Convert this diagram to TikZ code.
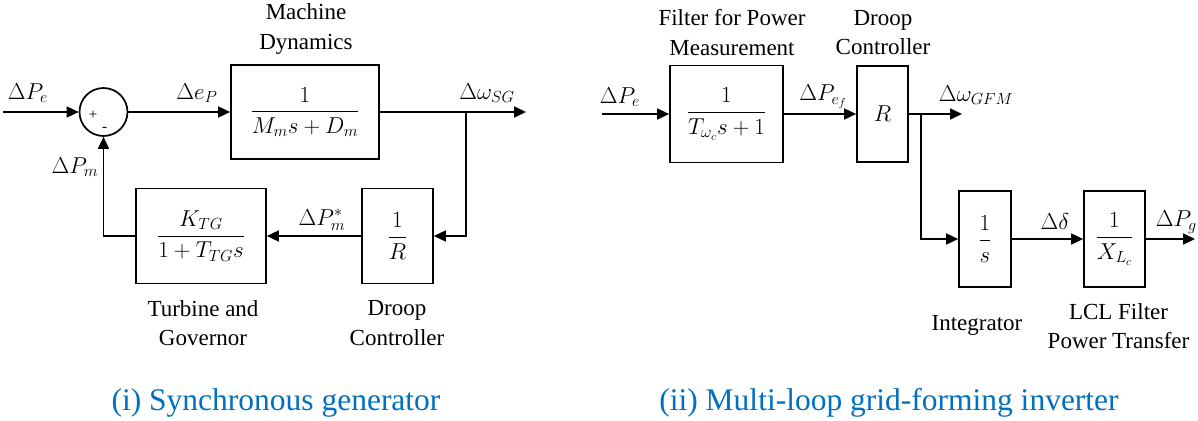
\documentclass[tikz,border=0pt]{standalone}
\usepackage{fix-cm}
\usepackage{amsmath}
\usepackage{fontspec}
\setmainfont{Liberation Serif}
\newfontfamily\tnr{Liberation Serif}
\usetikzlibrary{arrows.meta}
\definecolor{capblue}{RGB}{0,112,192}
\tikzset{
  blk/.style={draw, line width=1.7pt, inner sep=0pt, font=\fontsize{23}{27}\selectfont},
  lbl/.style={inner sep=0pt, font=\tnr\fontsize{23}{27}\selectfont},
  twoline/.style={inner sep=0pt, align=center, font=\tnr\fontsize{23}{29.5}\selectfont},
  arr/.style={line width=1.7pt, -{Triangle[length=12pt,width=11pt]}},
  ttl/.style={inner sep=0pt, text=capblue, font=\tnr\fontsize{31.5}{36}\selectfont},
  sgn/.style={inner sep=0pt, font=\tnr\fontsize{15}{17}\selectfont},
}
\begin{document}
\begin{tikzpicture}[x=1pt,y=-1pt]
\useasboundingbox (0,0) rectangle (1198,420);
% ---------- (i) synchronous generator ----------
\coordinate (inL) at (3,112);
\node[draw, circle, line width=1.7pt, minimum size=48pt, inner sep=0pt] (sum) at (103.5,112) {};
\node[sgn] (plus) at (93,115) {+};
\node[sgn] (minus) at (104.5,129) {-};
\node[blk, minimum width=148pt, minimum height=94pt] (md) at (305,112) {$\dfrac{1}{M_m s+D_m}$};
\coordinate (brL) at (466,112);
\coordinate (outL) at (526,112);
\node[blk, minimum width=71pt, minimum height=95pt] (dc) at (397.5,236) {$\dfrac{1}{R}$};
\node[blk, minimum width=130pt, minimum height=95pt] (tg) at (201,236) {$\dfrac{K_{TG}}{1+T_{TG}s}$};

\draw[arr] (inL) -- (sum.west);
\draw[arr] (sum.east) -- (md.west);
\draw[arr] (md.east) -- (outL);
\draw[arr] (brL) |- (dc.east);
\draw[arr] (dc.west) -- (tg.east);
\draw[arr] (tg.west) -| (sum.south);

\node[lbl] (lPe) at (28,93) {$\Delta P_e$};
\node[lbl] (lep) at (197,93) {$\Delta e_P$};
\node[lbl] (lwsg) at (487,93) {$\Delta\omega_{SG}$};
\node[lbl] (lPm) at (75,167) {$\Delta P_m$};
\node[lbl] (lPms) at (322,220) {$\Delta P_m^*$};
\node[twoline] (tmd) at (306,29) {Machine\\Dynamics};
\node[twoline] (ttg) at (203,323) {Turbine and\\Governor};
\node[twoline] (tdc) at (397,323) {Droop\\Controller};
\node[ttl] (c1) at (276,403) {(i) Synchronous generator};

% ---------- (ii) grid-forming inverter ----------
\coordinate (inR) at (602,114);
\node[blk, minimum width=113pt, minimum height=97pt] (flt) at (726.5,114) {$\dfrac{1}{T_{\omega_c}s+1}$};
\node[blk, minimum width=51pt, minimum height=96pt] (drR) at (882.5,114) {$R$};
\coordinate (brR) at (921,114);
\coordinate (outR) at (962,114);
\node[blk, minimum width=52pt, minimum height=96pt] (int) at (985,239) {$\dfrac{1}{s}$};
\node[blk, minimum width=61pt, minimum height=96pt] (lcl) at (1114.5,239) {$\dfrac{1}{X_{L_c}}$};
\coordinate (outR2) at (1195,239);

\draw[arr] (inR) -- (flt.west);
\draw[arr] (flt.east) -- (drR.west);
\draw[arr] (drR.east) -- (outR);
\draw[arr] (brR) |- (int.west);
\draw[arr] (int.east) -- (lcl.west);
\draw[arr] (lcl.east) -- (outR2);

\node[lbl] (rPe) at (620,97) {$\Delta P_e$};
\node[lbl] (rPef) at (823,97) {$\Delta P_{e_f}$};
\node[lbl] (rw) at (976,95) {$\Delta\omega_{GFM}$};
\node[lbl] (rd) at (1055,222) {$\Delta\delta$};
\node[lbl, anchor=east] (rPg) at (1197,222) {$\Delta P_g$};
\node[twoline] (tflt) at (732,32.5) {Filter for Power\\Measurement};
\node[twoline] (tdr) at (883,32.5) {Droop\\Controller};
\node[lbl] (tint) at (977,325) {Integrator};
\node[twoline] (tlcl) at (1118.5,326) {LCL Filter\\Power Transfer};
\node[ttl] (c2) at (889,403) {(ii) Multi-loop grid-forming inverter};
\end{tikzpicture}
\end{document}
